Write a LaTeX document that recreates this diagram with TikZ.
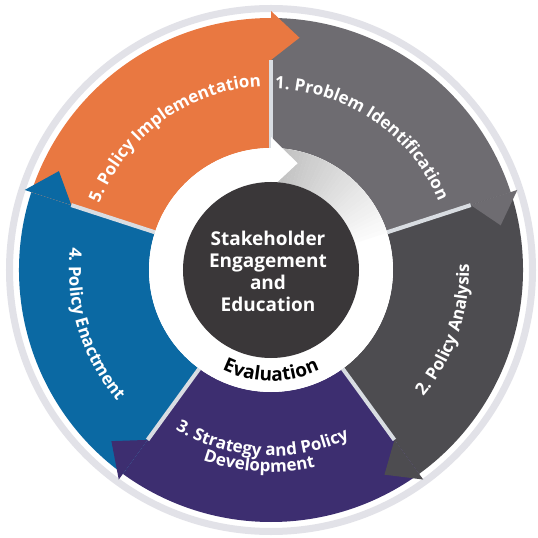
\documentclass[tikz,border=0pt]{standalone}
\usepackage{fontspec}
\setmainfont{Open Sans}
\usepackage{tikz}
\usetikzlibrary{decorations.text}

\definecolor{segone}{HTML}{6E6C71}
\definecolor{segtwo}{HTML}{4D4C50}
\definecolor{segthree}{HTML}{3D2E70}
\definecolor{segfour}{HTML}{0B69A3}
\definecolor{segfive}{HTML}{E97841}
\definecolor{hubdark}{HTML}{3A3739}
\definecolor{rimgray}{HTML}{E2E2E8}
\definecolor{gapgray}{HTML}{D9DDE2}

\newcommand{\segfont}{\fontsize{17}{17}\selectfont\bfseries}

\begin{document}
\begin{tikzpicture}[x=1pt, y=1pt,
    gapline/.style={draw=gapgray, line width=4pt},
    seglabel/.style={decorate, decoration={text along path, text align=center, text color=white}},
    hubtext/.style={align=center, text=white, font=\fontsize{19}{22}\selectfont\bfseries}]
    \useasboundingbox[fill=white] (-271,-268) rectangle (267,270);

    % Outer rim
    \draw[rimgray, line width=7pt] (0,0) circle[radius=261.5];

    % Ring segments
    \foreach \a/\col in {90/segone, 18/segtwo, -54/segthree, -126/segfour, 162/segfive} {
        \fill[fill=\col] (\a:252) arc[start angle=\a, end angle=\a-72, radius=252]
            -- ({\a-72}:122) arc[start angle=\a-72, end angle=\a, radius=122] -- cycle;
    }

    % Separators
    \foreach \a in {90, 18, -54, -126, 162} {
        \draw[gapline] (\a:122) -- (\a:210);
    }

    % Arrow heads
    \foreach \a/\col in {90/segone, 18/segtwo, -54/segthree, -126/segfour, 162/segfive} {
        \fill[fill=\col] ({\a-72}:210) -- ({\a-79}:234) -- ({\a-72}:259) -- cycle;
    }

    % Evaluation ring
    \fill[white] (0,0) circle[radius=122];
    \foreach \k [evaluate=\k as \shade using 26-0.7*\k] in {0,...,35} {
        \fill[black!\shade] ({90-2*\k}:88) arc[start angle=90-2*\k, end angle=87.8-2*\k, radius=88]
            -- ({87.8-2*\k}:122) arc[start angle=87.8-2*\k, end angle=90-2*\k, radius=122] -- cycle;
    }
    \fill[white] (90:82) -- (76:110) -- (90:133) -- cycle;

    % Hub
    \fill[hubdark] (0,0) circle[radius=88];
    \node[hubtext] (hub) at (-3,-1) {Stakeholder\\Engagement\\and\\Education};

    % Labels
    \path[seglabel, decoration={text={|\segfont|5. Policy Implementation}}]
        (176:184) arc[start angle=176, end angle=76, radius=184];
    \path[seglabel, decoration={text={|\segfont|1. Problem Identification}}]
        (105.5:181) arc[start angle=105.5, end angle=5.5, radius=181];
    \path[seglabel, decoration={text={|\segfont|2. Policy Analysis}}]
        (-69:198) arc[start angle=-69, end angle=31, radius=198];
    \path[seglabel, decoration={text={|\segfont|3. Strategy and Policy}}]
        (-143:186) arc[start angle=-143, end angle=-43, radius=186];
    \path[seglabel, decoration={text={|\segfont|Development}}]
        (-143.5:202) arc[start angle=-143.5, end angle=-43.5, radius=202];
    \path[seglabel, decoration={text={|\segfont|4. Policy Enactment}}]
        (147:202) arc[start angle=147, end angle=247, radius=202];
    \path[seglabel, decoration={text color=black, text={|\fontsize{19}{19}\selectfont\bfseries|Evaluation}}]
        (-145:111) arc[start angle=-145, end angle=-35, radius=111];
\end{tikzpicture}
\end{document}
